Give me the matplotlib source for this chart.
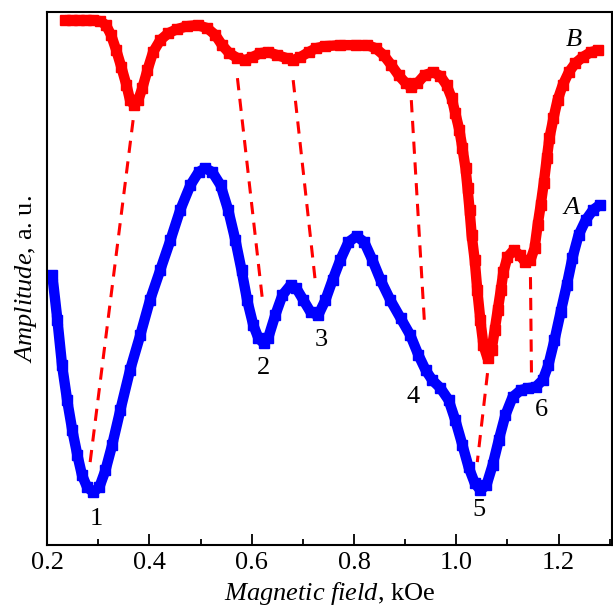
import matplotlib
matplotlib.use('Agg')
import matplotlib.pyplot as plt
from matplotlib.ticker import MultipleLocator

plt.rcParams['font.family'] = ['Liberation Serif', 'DejaVu Serif']
plt.rcParams['mathtext.fontset'] = 'custom'
plt.rcParams['mathtext.rm'] = 'Liberation Serif'
plt.rcParams['mathtext.it'] = 'Liberation Serif:italic'

# curve A (blue)
field_a = [0.210, 0.220, 0.229, 0.239, 0.249, 0.259, 0.268, 0.278, 0.290, 0.302,
           0.314, 0.327, 0.343, 0.362, 0.382, 0.401, 0.421, 0.441, 0.460, 0.480,
           0.496, 0.509, 0.523, 0.539, 0.554, 0.568, 0.580, 0.591, 0.603, 0.613,
           0.623, 0.632, 0.646, 0.660, 0.676, 0.687, 0.701, 0.715, 0.730, 0.744,
           0.758, 0.773, 0.789, 0.805, 0.820, 0.836, 0.852, 0.871, 0.891, 0.910,
           0.926, 0.940, 0.953, 0.969, 0.985, 0.998, 1.012, 1.024, 1.036, 1.047,
           1.059, 1.071, 1.083, 1.096, 1.110, 1.126, 1.141, 1.155, 1.169, 1.180,
           1.192, 1.204, 1.216, 1.227, 1.239, 1.253, 1.267, 1.280]
amp_a = [2.70, 2.25, 1.80, 1.45, 1.15, 0.90, 0.70, 0.58, 0.53, 0.58,
         0.75, 1.00, 1.35, 1.75, 2.10, 2.45, 2.75, 3.05, 3.35, 3.60,
         3.73, 3.77, 3.73, 3.60, 3.35, 3.05, 2.75, 2.45, 2.20, 2.07,
         2.02, 2.07, 2.30, 2.50, 2.60, 2.57, 2.45, 2.33, 2.30, 2.45,
         2.65, 2.85, 3.03, 3.09, 3.03, 2.85, 2.65, 2.45, 2.27, 2.10,
         1.90, 1.75, 1.65, 1.57, 1.45, 1.25, 1.00, 0.78, 0.62, 0.55,
         0.60, 0.80, 1.05, 1.30, 1.48, 1.55, 1.57, 1.58, 1.65, 1.80,
         2.05, 2.33, 2.60, 2.87, 3.10, 3.25, 3.35, 3.40]

# curve B (red)
field_b = [0.235, 0.249, 0.263, 0.276, 0.290, 0.304, 0.315, 0.325, 0.335, 0.345,
           0.355, 0.362, 0.370, 0.378, 0.386, 0.396, 0.407, 0.421, 0.437, 0.454,
           0.474, 0.494, 0.513, 0.529, 0.542, 0.556, 0.572, 0.587, 0.601, 0.617,
           0.632, 0.650, 0.668, 0.681, 0.695, 0.711, 0.726, 0.744, 0.773, 0.803,
           0.826, 0.842, 0.858, 0.873, 0.887, 0.901, 0.912, 0.924, 0.938, 0.955,
           0.969, 0.981, 0.991, 0.998, 1.006, 1.012, 1.018, 1.022, 1.026, 1.030,
           1.036, 1.041, 1.047, 1.053, 1.061, 1.069, 1.075, 1.081, 1.087, 1.092,
           1.100, 1.112, 1.124, 1.135, 1.145, 1.153, 1.159, 1.165, 1.171, 1.177,
           1.182, 1.190, 1.198, 1.208, 1.220, 1.233, 1.247, 1.263, 1.278]
amp_b = [5.25, 5.25, 5.25, 5.25, 5.25, 5.24, 5.20, 5.10, 4.95, 4.78,
         4.60, 4.45, 4.40, 4.45, 4.57, 4.75, 4.93, 5.05, 5.12, 5.16,
         5.19, 5.20, 5.17, 5.10, 5.00, 4.92, 4.87, 4.85, 4.88, 4.92,
         4.93, 4.90, 4.87, 4.85, 4.88, 4.93, 4.97, 4.99, 5.00, 5.00,
         5.00, 4.97, 4.90, 4.80, 4.70, 4.62, 4.58, 4.62, 4.70, 4.73,
         4.69, 4.60, 4.47, 4.32, 4.15, 3.97, 3.77, 3.57, 3.35, 3.10,
         2.85, 2.55, 2.25, 2.00, 1.87, 1.95, 2.15, 2.35, 2.55, 2.73,
         2.88, 2.95, 2.90, 2.83, 2.85, 2.97, 3.20, 3.40, 3.62, 3.87,
         4.07, 4.27, 4.45, 4.60, 4.73, 4.82, 4.88, 4.93, 4.95]

# dashed connectors between B and A minima: (x_b, y_b, x_a, y_a)
links = [(0.368, 4.25, 0.282, 0.75),
         (0.572, 4.67, 0.621, 2.45),
         (0.681, 4.65, 0.724, 2.65),
         (0.912, 4.45, 0.938, 2.20),
         (1.061, 1.72, 1.041, 0.83),
         (1.145, 2.68, 1.147, 1.70)]

peak_labels = ['1', '2', '3', '4', '5', '6']
peak_pos = [(0.296, 0.26), (0.623, 1.77), (0.736, 2.05),
            (0.916, 1.48), (1.045, 0.35), (1.167, 1.35)]

fig = plt.figure(figsize=(6.13, 6.07), dpi=100)
ax = fig.add_axes([0.077, 0.102, 0.921, 0.878])

ax.plot(field_a, amp_a, color='blue', lw=7.5, marker='s', ms=7, solid_capstyle='butt')
ax.plot(field_b, amp_b, color='red', lw=7.5, marker='s', ms=7, solid_capstyle='butt')

for xb, yb, xa, ya in links:
    ax.plot([xb, xa], [yb, ya], color='red', lw=2.2, dashes=(4, 2.8))

for lab, (x, y) in zip(peak_labels, peak_pos):
    ax.text(x, y, lab, fontsize=19, ha='center', va='center')
ax.text(1.225, 3.37, 'A', fontsize=19, style='italic', ha='center', va='center')
ax.text(1.229, 5.05, 'B', fontsize=19, style='italic', ha='center', va='center')

ax.set_xlim(0.2, 1.304)
ax.set_ylim(0, 5.33)
ax.xaxis.set_major_locator(MultipleLocator(0.2))
ax.xaxis.set_minor_locator(MultipleLocator(0.1))
ax.set_xticklabels([f'{v:.1f}' for v in ax.get_xticks()])
ax.set_yticks([])
ax.tick_params(axis='x', which='major', direction='in', length=8, width=1.3,
               labelsize=19, pad=5)
ax.tick_params(axis='x', which='minor', direction='in', length=4, width=1.3)
for s in ax.spines.values():
    s.set_linewidth(1.5)

ax.set_xlabel(r'$\it{Magnetic\ field}$, kOe', fontsize=19, labelpad=4)
ax.set_ylabel(r'$\it{Amplitude}$, a. u.', fontsize=19, labelpad=6)

fig.savefig('out.png', dpi=100)
